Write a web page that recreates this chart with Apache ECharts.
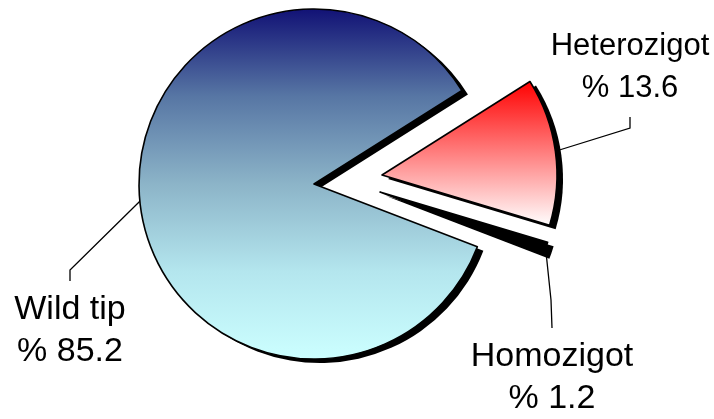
<!DOCTYPE html>
<html>
<head>
<meta charset="utf-8">
<script src="https://cdn.jsdelivr.net/npm/echarts@6/dist/echarts.min.js"></script>
<style>
  html, body { margin: 0; padding: 0; background: #fff; }
  #chart { width: 714px; height: 419px; }
</style>
</head>
<body>
<div id="chart"></div>
<script>
// 数据
var names = ['Wild tip', 'Heterozigot', 'Homozigot'];
var values = [85.2, 13.6, 1.2];

var chart = echarts.init(document.getElementById('chart'));

// 每个扇区单独一个系列，便于分别设置分离位置
var centers = [[314, 184], [382, 175], [380, 192]];
var shadowOffset = [6, 4];
var fills = [
  new echarts.graphic.LinearGradient(0, 0, 0, 1, [
    { offset: 0, color: '#111175' },
    { offset: 0.25, color: '#5776a4' },
    { offset: 0.5, color: '#8cb4c8' },
    { offset: 0.75, color: '#b4e6ee' },
    { offset: 1, color: '#ccffff' }
  ]),
  new echarts.graphic.LinearGradient(0, 0, 0, 1, [
    { offset: 0, color: '#ff0000' },
    { offset: 1, color: '#ffffff' }
  ]),
  '#000000'
];
// 标签位置、字号和引导线折点
var labelPos = [
  { x: 70, y: 331, size: 34, bend: [[70, 270], [70, 281]] },
  { x: 630, y: 67, size: 31, bend: [[630, 128], [630, 117]] },
  { x: 552, y: 378, size: 34, bend: [[551, 300], [552, 328]] }
];

function makeSeries(k, isShadow) {
  var c = isShadow ? [centers[k][0] + shadowOffset[0], centers[k][1] + shadowOffset[1]] : centers[k];
  return {
    type: 'pie',
    center: c,
    radius: 175,
    startAngle: -21,
    clockwise: true,
    silent: true,
    animation: false,
    avoidLabelOverlap: false,
    label: {
      formatter: '{b}\n% {c}',
      color: '#000',
      fontFamily: 'Liberation Sans',
      fontSize: labelPos[k].size,
      lineHeight: 42,
      align: 'center'
    },
    labelLine: {
      lineStyle: { color: '#000', width: 1.3 }
    },
    labelLayout: function (params) {
      if (isShadow || params.dataIndex !== k) return {};
      var p = labelPos[k];
      var start = params.labelLinePoints ? params.labelLinePoints[0] : p.bend[0];
      return {
        x: p.x,
        y: p.y,
        align: 'center',
        verticalAlign: 'middle',
        labelLinePoints: [start, p.bend[0], p.bend[1]]
      };
    },
    data: values.map(function (v, i) {
      var on = i === k;
      var style;
      if (!on) {
        style = { color: 'transparent', borderWidth: 0 };
      } else if (isShadow) {
        style = { color: '#000', borderWidth: 0 };
      } else {
        style = { color: fills[i], borderColor: '#000', borderWidth: 1.6 };
      }
      return {
        name: names[i],
        value: v,
        itemStyle: style,
        label: { show: on && !isShadow },
        labelLine: { show: on && !isShadow }
      };
    })
  };
}

var option = {
  backgroundColor: '#fff',
  series: [
    makeSeries(0, true), makeSeries(1, true), makeSeries(2, true),
    makeSeries(0, false), makeSeries(1, false), makeSeries(2, false)
  ]
};
chart.setOption(option);
</script>
</body>
</html>
